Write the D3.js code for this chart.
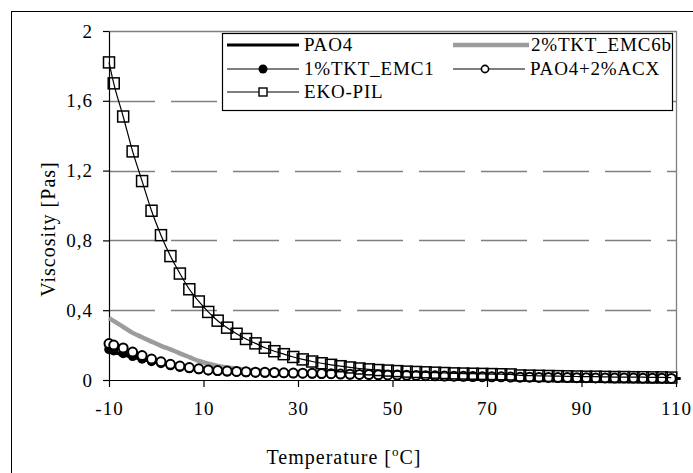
<!DOCTYPE html>
<html>
<head>
<meta charset="UTF-8">
<script src="https://d3js.org/d3.v7.min.js"></script>
<style>
  body { margin: 0; background: #fff; }
  text { font-family: "Liberation Serif", "Times New Roman", serif; fill: #000; }
</style>
</head>
<body>
<div id="chart"></div>
<script>
// temperatures of the measured points [°C]
var temps = [-10, -9, -7, -5, -3, -1, 1, 3, 5, 7, 9, 11, 13, 15, 17, 19, 21, 23, 25, 27, 29,
  31, 33, 35, 37, 39, 41, 43, 45, 47, 49, 51, 53, 55, 57, 59, 61, 63, 65, 67, 69,
  71, 73, 75, 77, 79, 81, 83, 85, 87, 89, 91, 93, 95, 97, 99, 101, 103, 105, 107, 109];

var ekoPil = [1.82, 1.70, 1.51, 1.31, 1.14, 0.97, 0.83, 0.71, 0.61, 0.52, 0.45, 0.39, 0.34, 0.30,
  0.265, 0.235, 0.21, 0.185, 0.165, 0.148, 0.132, 0.118, 0.106, 0.096, 0.087, 0.079, 0.072,
  0.066, 0.061, 0.057, 0.054, 0.051, 0.048, 0.046, 0.044, 0.042, 0.040, 0.038, 0.037, 0.036,
  0.035, 0.034, 0.033, 0.032, 0.026, 0.025, 0.024, 0.023, 0.022, 0.021, 0.020, 0.019, 0.019,
  0.018, 0.017, 0.017, 0.016, 0.016, 0.015, 0.015, 0.014];

var acx = [0.209, 0.200, 0.184, 0.160, 0.140, 0.120, 0.104, 0.090, 0.080, 0.071, 0.064, 0.058,
  0.054, 0.051, 0.049, 0.047, 0.045, 0.044, 0.043, 0.041, 0.040, 0.039, 0.038, 0.037, 0.036,
  0.034, 0.033, 0.032, 0.031, 0.030, 0.029, 0.028, 0.027, 0.026, 0.025, 0.024, 0.023, 0.022,
  0.021, 0.020, 0.019, 0.018, 0.018, 0.017, 0.016, 0.016, 0.015, 0.015, 0.014, 0.014, 0.013,
  0.013, 0.012, 0.012, 0.011, 0.011, 0.011, 0.010, 0.010, 0.010, 0.009];

var emc1 = [0.175, 0.168, 0.152, 0.136, 0.121, 0.107, 0.095, 0.083, 0.074, 0.066, 0.060, 0.054,
  0.050, 0.047, 0.045, 0.043, 0.041, 0.040, 0.039, 0.038, 0.037, 0.036, 0.035, 0.034, 0.033,
  0.032, 0.031, 0.030, 0.029, 0.028, 0.027, 0.026, 0.025, 0.024, 0.023, 0.022, 0.021, 0.020,
  0.019, 0.019, 0.018, 0.017, 0.017, 0.016, 0.015, 0.015, 0.014, 0.014, 0.013, 0.013, 0.012,
  0.012, 0.011, 0.011, 0.011, 0.010, 0.010, 0.010, 0.009, 0.009, 0.009];

// line-only series
var pao4Temps = [-10, -5, 0, 5, 10, 20, 30, 40, 50, 60, 70, 80, 90, 100, 111];
var pao4 = [0.165, 0.13, 0.10, 0.075, 0.058, 0.043, 0.036, 0.030, 0.025, 0.021, 0.017, 0.014, 0.011, 0.009, 0.008];

var emc6bTemps = [-10, -7, -5, -3, -1, 1, 3, 5, 7, 9, 11, 13, 15, 20, 25, 30, 40, 50, 60, 70, 80, 90, 100, 109];
var emc6b = [0.355, 0.305, 0.27, 0.245, 0.22, 0.196, 0.175, 0.153, 0.131, 0.109, 0.093, 0.081,
  0.072, 0.058, 0.049, 0.042, 0.034, 0.027, 0.022, 0.018, 0.015, 0.012, 0.010, 0.009];

var xTicks = [-10, 10, 30, 50, 70, 90, 110];
var yTicks = [0, 0.4, 0.8, 1.2, 1.6, 2];
var gridVals = [0.4, 0.8, 1.2, 1.6];

var width = 693, height = 473;
var svg = d3.select("#chart").append("svg")
  .attr("width", width)
  .attr("height", height);

var x = d3.scaleLinear().domain([-10, 110]).range([109, 676]);
var y = d3.scaleLinear().domain([0, 2]).range([380, 31]);

// chart border
svg.append("rect")
  .attr("x", 11.5).attr("y", 11.5)
  .attr("width", 700).attr("height", 480)
  .attr("fill", "none").attr("stroke", "#000").attr("stroke-width", 1);

// gridlines
svg.selectAll(".grid")
  .data(gridVals)
  .enter().append("line")
  .attr("x1", x(-10)).attr("x2", x(110))
  .attr("y1", function (d) { return Math.round(y(d)) + 0.5; })
  .attr("y2", function (d) { return Math.round(y(d)) + 0.5; })
  .attr("stroke", "#808080").attr("stroke-width", 1.3)
  .attr("stroke-dasharray", "46,16");

// plot area border (top and right)
svg.append("path")
  .attr("d", "M" + x(-10) + "," + (y(2) + 0.5) + "H" + (x(110) + 0.5) + "V" + y(0))
  .attr("fill", "none").attr("stroke", "#808080").attr("stroke-width", 1.3);

// axes
var fmt = function (d) { return String(d).replace(".", ","); };

svg.append("g")
  .attr("transform", "translate(" + x(-10) + ",0)")
  .call(d3.axisLeft(y).tickValues(yTicks).tickSize(6).tickSizeOuter(0).tickPadding(10).tickFormat(fmt));

svg.append("g")
  .attr("transform", "translate(0," + y(0) + ")")
  .call(d3.axisBottom(x).tickValues(xTicks).tickSize(7).tickSizeOuter(0).tickPadding(15).tickFormat(fmt));

svg.selectAll(".domain, .tick line").attr("stroke", "#000").attr("stroke-width", 1.2);
svg.selectAll(".tick text")
  .style("font-family", "'Liberation Serif', 'Times New Roman', serif")
  .style("font-size", "19px")
  .style("letter-spacing", "1px")
  .attr("fill", "#000");

// axis titles
svg.append("text")
  .attr("transform", "translate(55,229) rotate(-90)")
  .attr("text-anchor", "middle")
  .style("font-size", "20px")
  .style("letter-spacing", "1px")
  .text("Viscosity [Pas]");

var xt = svg.append("text")
  .attr("x", 344).attr("y", 464)
  .attr("text-anchor", "middle")
  .style("font-size", "20px")
  .style("letter-spacing", "1px");
xt.append("tspan").text("Temperature [");
xt.append("tspan").attr("dy", -8).style("font-size", "13px").text("o");
xt.append("tspan").attr("dy", 8).text("C]");

// data
var line = d3.line()
  .x(function (d) { return x(d[0]); })
  .y(function (d) { return y(d[1]); })
  .curve(d3.curveMonotoneX);

var plot = svg.append("g");

function pairs(ts, vs) {
  return ts.map(function (t, i) { return [t, vs[i]]; });
}

// PAO4 - thick black line
plot.append("path")
  .attr("d", line(pairs(pao4Temps, pao4)))
  .attr("fill", "none").attr("stroke", "#000").attr("stroke-width", 3);

// 2%TKT_EMC6b - thick gray line
plot.append("path")
  .attr("d", line(pairs(emc6bTemps, emc6b)))
  .attr("fill", "none").attr("stroke", "#9c9c9c").attr("stroke-width", 4.5);

// 1%TKT_EMC1 - filled circles
var d1 = pairs(temps, emc1);
plot.append("path")
  .attr("d", line(d1))
  .attr("fill", "none").attr("stroke", "#000").attr("stroke-width", 1);
plot.selectAll(".c1")
  .data(d1)
  .enter().append("circle")
  .attr("cx", function (d) { return x(d[0]); })
  .attr("cy", function (d) { return y(d[1]); })
  .attr("r", 4.8)
  .attr("fill", "#000");

// PAO4+2%ACX - open circles
var d2 = pairs(temps, acx);
plot.append("path")
  .attr("d", line(d2))
  .attr("fill", "none").attr("stroke", "#000").attr("stroke-width", 1);
plot.selectAll(".c2")
  .data(d2)
  .enter().append("circle")
  .attr("cx", function (d) { return x(d[0]); })
  .attr("cy", function (d) { return y(d[1]); })
  .attr("r", 4.5)
  .attr("fill", "#fff").attr("stroke", "#000").attr("stroke-width", 2);

// EKO-PIL - open squares
var d3d = pairs(temps, ekoPil);
plot.selectAll(".sq")
  .data(d3d)
  .enter().append("rect")
  .attr("x", function (d) { return x(d[0]) - 5.5; })
  .attr("y", function (d) { return y(d[1]) - 5.5; })
  .attr("width", 11).attr("height", 11)
  .attr("fill", "none").attr("stroke", "#000").attr("stroke-width", 1.5);
plot.append("path")
  .attr("d", line(d3d))
  .attr("fill", "none").attr("stroke", "#000").attr("stroke-width", 1.2);

// legend
var lg = svg.append("g");
lg.append("rect")
  .attr("x", 222.5).attr("y", 33.5)
  .attr("width", 450).attr("height", 77)
  .attr("fill", "#fff").attr("stroke", "#000").attr("stroke-width", 1.2);

var legendItems = [
  { name: "PAO4", col: 0, row: 0, type: "thick" },
  { name: "2%TKT_EMC6b", col: 1, row: 0, type: "gray" },
  { name: "1%TKT_EMC1", col: 0, row: 1, type: "filled" },
  { name: "PAO4+2%ACX", col: 1, row: 1, type: "open" },
  { name: "EKO-PIL", col: 0, row: 2, type: "square" }
];
var colX = [227, 453], rowY = [45, 69, 92];

legendItems.forEach(function (it) {
  var x0 = colX[it.col], x1 = x0 + 72, cy = rowY[it.row], cx = (x0 + x1) / 2;
  var g = lg.append("g");
  if (it.type === "thick") {
    g.append("line").attr("x1", x0).attr("x2", x1).attr("y1", cy).attr("y2", cy)
      .attr("stroke", "#000").attr("stroke-width", 3);
  } else if (it.type === "gray") {
    g.append("line").attr("x1", x0).attr("x2", x1 + 4).attr("y1", cy).attr("y2", cy)
      .attr("stroke", "#9c9c9c").attr("stroke-width", 4.5);
  } else {
    g.append("line").attr("x1", x0).attr("x2", x1).attr("y1", cy).attr("y2", cy)
      .attr("stroke", "#000").attr("stroke-width", 1.2);
    if (it.type === "filled") {
      g.append("circle").attr("cx", cx).attr("cy", cy).attr("r", 4.5).attr("fill", "#000");
    } else if (it.type === "open") {
      g.append("circle").attr("cx", cx - 4).attr("cy", cy).attr("r", 3.6)
        .attr("fill", "#fff").attr("stroke", "#000").attr("stroke-width", 1.6);
    } else {
      g.append("rect").attr("x", cx - 4).attr("y", cy - 4).attr("width", 8).attr("height", 8)
        .attr("fill", "#fff").attr("stroke", "#000").attr("stroke-width", 1.4);
    }
  }
  g.append("text")
    .attr("x", x1 + (it.type === "gray" ? 6 : 5)).attr("y", cy + 6)
    .style("font-size", "19px")
    .style("letter-spacing", "0.8px")
    .text(it.name);
});
</script>
</body>
</html>
